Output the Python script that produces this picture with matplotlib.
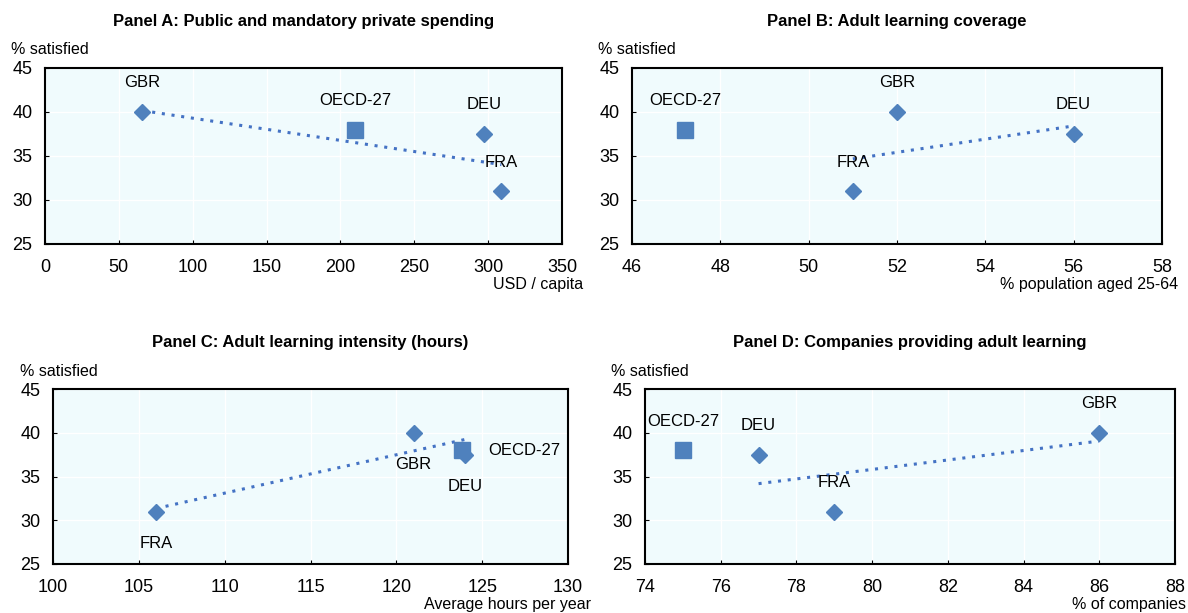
import numpy as np
import matplotlib
matplotlib.use("Agg")
import matplotlib.pyplot as plt

plt.rcParams['font.family'] = ['Liberation Sans', 'DejaVu Sans']

# ---- data
countries = ["GBR", "DEU", "FRA"]
satisfied = [40, 37.5, 31]
oecd_satisfied = 38

spending = [66, 297, 309]          # Panel A
oecd_spending = 210
coverage = [52, 56, 51]            # Panel B
oecd_coverage = 47.2
hours = [121, 124, 106]            # Panel C
oecd_hours = 123.8
companies = [86, 77, 79]           # Panel D
oecd_companies = 75

titles = ["Panel A: Public and mandatory private spending",
          "Panel B: Adult learning coverage",
          "Panel C: Adult learning intensity (hours)",
          "Panel D: Companies providing adult learning"]
xlabels = ["USD / capita", "% population aged 25-64",
           "Average hours per year", "% of companies"]
xlims = [(0, 350), (46, 58), (100, 130), (74, 88)]
xsteps = [50, 2, 5, 2]
xlabel_right = [1.04, 1.03, 1.045, 1.02]

# label offsets (points) per panel: GBR, DEU, FRA, OECD
offsets = [
    [(0, 21), (0, 21), (0, 21), (0, 21)],
    [(0, 21), (0, 21), (0, 21), (0, 21)],
    [(0, -23), (0, -23), (0, -23), (45, 0)],
    [(0, 21), (0, 21), (0, 21), (0, 21)],
]

xs = [spending, coverage, hours, companies]
oecd_xs = [oecd_spending, oecd_coverage, oecd_hours, oecd_companies]

W, H = 1188, 613
fig = plt.figure(figsize=(W / 100, H / 100), dpi=100)
boxes = [(45, 562, 68, 244), (632, 1162, 68, 244),
         (53, 568, 389, 564), (645, 1175, 389, 564)]

marker_col = "#4F81BD"
line_col = "#4472C4"
bg = "#F0FBFD"

for i in range(4):
    l, r, t, b = boxes[i]
    ax = fig.add_axes([l / W, 1 - b / H, (r - l) / W, (b - t) / H])
    ax.set_facecolor(bg)
    x = np.array(xs[i], dtype=float)
    y = np.array(satisfied, dtype=float)

    # trend line over the countries
    k, c = np.polyfit(x, y, 1)
    xx = np.array([x.min(), x.max()])
    ax.plot(xx, k * xx + c, linestyle=(0, (1, 2.2)), color=line_col,
            linewidth=2.2, zorder=2)

    ax.plot(x, y, linestyle="none", marker="D", markersize=8.5,
            color=marker_col, zorder=3)
    ax.plot([oecd_xs[i]], [oecd_satisfied], linestyle="none", marker="s",
            markersize=11, color=marker_col, zorder=3)

    names = countries + ["OECD-27"]
    px = list(x) + [oecd_xs[i]]
    py = list(y) + [oecd_satisfied]
    for n, xv, yv, off in zip(names, px, py, offsets[i]):
        ax.annotate(n, (xv, yv), xytext=off, textcoords="offset points",
                    ha="center", va="center", fontsize=12, zorder=4)

    ax.set_xlim(*xlims[i])
    ax.set_ylim(25, 45)
    ax.set_xticks(np.arange(xlims[i][0], xlims[i][1] + 0.01, xsteps[i]))
    ax.set_yticks([25, 30, 35, 40, 45])
    ax.grid(True, color="white", linewidth=1.0, zorder=0)
    ax.set_axisbelow(True)
    ax.tick_params(axis="x", labelsize=13, length=3, direction="in", pad=11)
    ax.tick_params(axis="y", labelsize=13, length=3, direction="in", pad=9)
    for s in ax.spines.values():
        s.set_linewidth(1.5)
        s.set_color("black")

    ax.set_title(titles[i], fontsize=12, fontweight="bold", pad=30)
    ax.text(-0.065, 1.06, "% satisfied", transform=ax.transAxes,
            fontsize=11.5, ha="left", va="bottom")
    ax.text(xlabel_right[i], -0.23, xlabels[i], transform=ax.transAxes,
            fontsize=11.5, ha="right", va="center")

fig.savefig("out.png", dpi=100)
